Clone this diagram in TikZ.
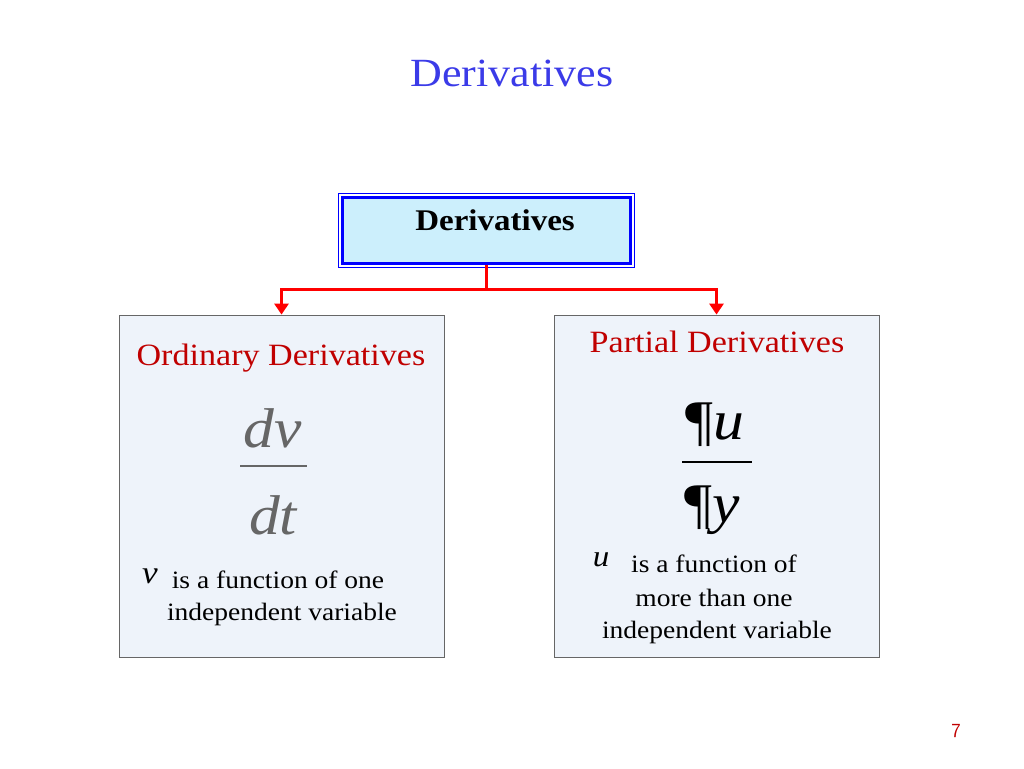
\documentclass[tikz,border=0pt]{standalone}
\usepackage{fontspec}
\setmainfont{Liberation Serif}[FakeStretch=1.1]
\usetikzlibrary{arrows.meta}
\definecolor{tblue}{HTML}{3B3BE8}
\definecolor{dred}{HTML}{C00000}
\definecolor{boxfill}{HTML}{EEF3FA}
\begin{document}
\begin{tikzpicture}[x=1pt,y=-1pt,
  panel/.style={draw=black!60,fill=boxfill,line width=0.8pt},
  head/.style={text=dred,font=\fontsize{31}{35}\selectfont},
  body/.style={font=\fontsize{25}{29}\selectfont},
  mathg/.style={text=black!60,font=\fontsize{56}{60}\selectfont\itshape},
  conn/.style={draw=red,line width=3pt,-{Triangle[length=11pt,width=14pt]}}]
\useasboundingbox (0,0) rectangle (1024,768);
\node[text=tblue,font=\fontsize{40}{44}\selectfont] (title) at (512,73) {Derivatives};
\draw[blue,line width=0.8pt] (338,193) rectangle (634,267);
\node[draw=blue,line width=3pt,fill=cyan!20,minimum width=288pt,minimum height=66pt] (top) at (486,230) {};
\node[font=\fontsize{30}{34}\selectfont\bfseries] (toptext) at (495,220) {Derivatives};
\node[panel,minimum width=325pt,minimum height=342pt] (L) at (281.5,486) {};
\node[panel,minimum width=325pt,minimum height=342pt] (R) at (716.5,486) {};
\coordinate (j) at (486,289);
\draw[red,line width=3pt] (top.south) -- (j);
\draw[conn] (j) -| (L.north);
\draw[conn] (j) -| (R.north);
\node[head] (lh) at (281,358) {Ordinary Derivatives};
\node[mathg] (dv) at (273,428) {dv};
\draw[black!60,line width=2pt] (240,466) -- (307,466);
\node[mathg] (dt) at (273,515) {dt};
\node[font=\fontsize{32}{36}\selectfont\itshape] (v) at (150,576) {v};
\node[body] (l1) at (278,580) {is a function of one};
\node[body] (l2) at (282,614) {independent variable};
\node[head] (rh) at (717,342) {Partial Derivatives};
\node[font=\fontsize{56}{60}\selectfont] (pu) at (715,425) {¶\textit{u}};
\draw[line width=2pt] (682,462) -- (752,462);
\node[font=\fontsize{56}{60}\selectfont] (py) at (712,510) {¶\textit{y}};
\node[font=\fontsize{30}{34}\selectfont\itshape] (u) at (601,560) {u};
\node[body] (r1) at (714,564) {is a function of};
\node[body] (r2) at (714,598) {more than one};
\node[body] (r3) at (717,632) {independent variable};
\node[text=dred,font=\fontsize{20}{24}\selectfont\sffamily] (pg) at (956,731) {7};
\end{tikzpicture}
\end{document}
